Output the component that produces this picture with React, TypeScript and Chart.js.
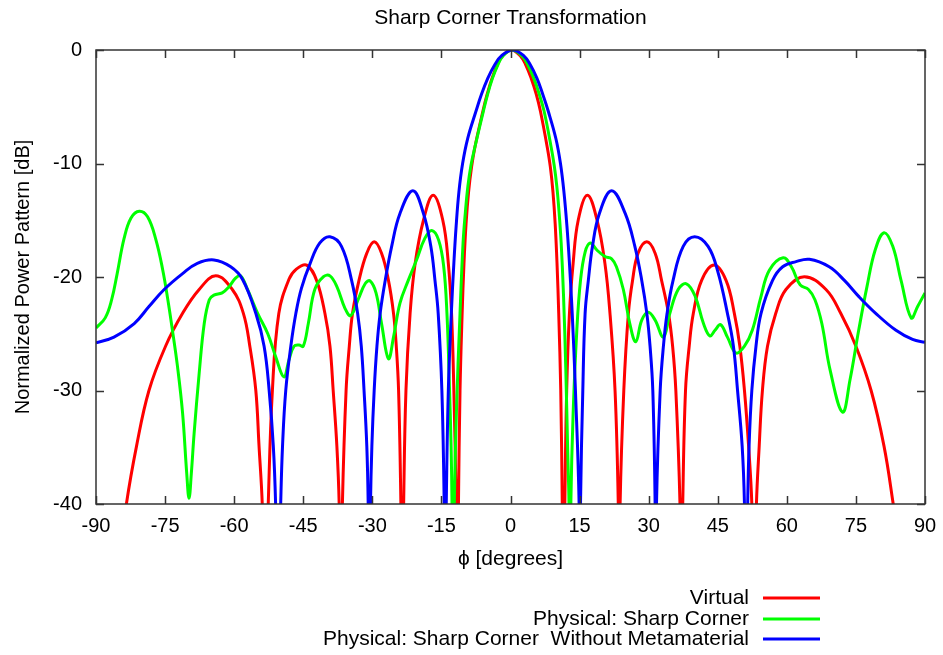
import React, { useEffect, useRef } from "react";
import { Chart, registerables } from "chart.js";

Chart.register(...registerables);

const chartTitle = "Sharp Corner Transformation";
const xAxisTitle = "\u03D5 [degrees]";
const yAxisTitle = "Normalized Power Pattern [dB]";
const seriesNames = ["Virtual", "Physical: Sharp Corner", "Physical: Sharp Corner  Without Metamaterial"];
const seriesColors = ["#ff0000", "#00ff00", "#0000ff"];

// [angle (deg), normalized power (dB)]
const virtualPattern: [number, number][] = [
  [-86, -48], [-83.4, -40], [-81.2, -34.9], [-78.5, -30], [-74.9, -26.1], [-71.2, -23.2], [-67.6, -21.1], [-64.0, -19.9],
  [-60.4, -21.1], [-58.0, -23.2], [-56.6, -26.1], [-55.3, -30], [-54.6, -34.9], [-53.9, -40], [-53.25, -50], [-52.6, -40],
  [-51.7, -30], [-50.3, -23.2], [-48.1, -20.2], [-46.5, -19.3], [-44.25, -18.95], [-42.1, -20.3], [-40.3, -23.2], [-39.2, -26.1],
  [-38.5, -30], [-37.7, -34.9], [-37.2, -40], [-36.85, -50], [-36.5, -40], [-35.7, -30], [-35.0, -26.1], [-34.3, -23.2],
  [-32.9, -20.3], [-31.2, -17.9], [-29.6, -16.9], [-28.0, -17.9], [-26.5, -20.3], [-25.4, -23.2], [-24.8, -26.1], [-24.3, -30],
  [-23.8, -40], [-23.5, -50], [-23.2, -40], [-22.7, -30], [-21.8, -23.2], [-20.7, -18.8], [-18.9, -15.0], [-16.8, -12.8],
  [-14.7, -15.0], [-13.5, -18.8], [-12.8, -23.2], [-12.3, -30], [-11.8, -40], [-11.55, -50], [-11.3, -40], [-10.96, -30],
  [-10.5, -23.2], [-10.1, -18.8], [-9.65, -15.3], [-9.1, -12.5], [-8.45, -10.3], [-7.7, -8.5], [-6.0, -5.4], [-5.07, -3.9],
  [-4.02, -2.5], [-2.84, -1.3], [-1.69, -0.5], [0.2, 0], [2.1, -0.5], [3.3, -1.3], [4.5, -2.5], [5.6, -3.9],
  [6.5, -5.4], [7.95, -8.5], [8.65, -10.3], [9.22, -12.5], [9.7, -15.3], [10.1, -18.8], [10.47, -23.2], [10.91, -30],
  [11.24, -40], [11.5, -50], [11.8, -40], [12.2, -30],
  [12.8, -23.2], [13.6, -18.8], [14.7, -15.0], [16.7, -12.8], [18.8, -15.0], [20.5, -18.8], [21.6, -23.2], [22.7, -30],
  [23.4, -40], [23.6, -50], [23.8, -40], [24.6, -30], [25.6, -23.2], [26.5, -20.3], [27.7, -17.9], [29.6, -16.9],
  [31.4, -17.9], [32.8, -20.3], [34.3, -23.2], [35.2, -26.1], [35.9, -30], [36.8, -40], [37.1, -50], [37.4, -40],
  [38.0, -30], [38.8, -26.1], [39.7, -23.2], [41.5, -20.3], [44.2, -18.95], [46.8, -20.3], [48.6, -23.2], [49.8, -26.1],
  [50.8, -30], [51.7, -34.9], [52.4, -40], [52.9, -50], [53.4, -40], [54.0, -34.9], [54.7, -30], [55.8, -26.1],
  [57.6, -23.2], [59.8, -21.1], [63.8, -19.97], [68.5, -21.1], [71.7, -23.2], [75.0, -26.1], [78.3, -30], [81.1, -34.9],
  [83.1, -40], [86, -48],
];

const sharpCornerPattern: [number, number][] = [
  [-90, -24.5], [-88.0, -23.6], [-86.6, -22.0], [-85.4, -19.7], [-83.9, -16.6], [-82.4, -14.8], [-80.6, -14.2], [-78.8, -14.7],
  [-77.0, -16.7], [-75.5, -19.4], [-74.4, -22.0], [-73.4, -24.7], [-72.3, -27.9], [-71.2, -32.0], [-70.3, -37.3], [-69.8, -39.5],
  [-69.3, -37.3], [-68.7, -33.8], [-67.6, -28.5], [-66.5, -24.1], [-65.4, -22.0], [-64.4, -21.6], [-62.6, -21.4], [-61.1, -20.85],
  [-59.7, -20.1], [-58.6, -19.9], [-57.1, -21.1], [-54.9, -23.2], [-52.7, -25.0], [-51.0, -27.0], [-49.2, -28.8], [-48.1, -27.3],
  [-47.0, -26.1], [-45.9, -26.0], [-45.0, -26.1], [-43.9, -24.1], [-42.5, -21.1], [-40.6, -19.97], [-39.2, -19.9], [-37.7, -20.85],
  [-35.9, -22.8], [-34.7, -23.4], [-33.0, -21.9], [-31.5, -20.55], [-30.5, -20.35], [-29.2, -21.4], [-28.0, -24.1], [-26.5, -27.2],
  [-25.4, -25.3], [-24.0, -22.3], [-22.2, -20.3], [-20.4, -18.5], [-18.6, -16.6], [-17.1, -15.9], [-15.6, -16.75], [-14.5, -19.1],
  [-13.8, -23.2], [-13.3, -29.1], [-12.9, -34.9], [-12.7, -40], [-12.45, -50], [-12.2, -40], [-11.75, -32], [-10.96, -23.2],
  [-10.3, -17.0], [-9.8, -14.3], [-9.25, -12.0], [-8.6, -10.2], [-7.7, -8.5], [-5.9, -5.4], [-4.97, -3.9], [-3.92, -2.5],
  [-2.74, -1.3], [-1.59, -0.5], [0.3, 0], [2.43, -0.5], [3.74, -1.3], [5.07, -2.5], [6.25, -3.9], [7.3, -5.4],
  [8.8, -8.5], [9.5, -10.2], [10.05, -12.0], [10.55, -14.3], [11.0, -17.0], [11.5, -21.5], [12.0, -28.0], [12.4, -35],
  [12.7, -40], [12.9, -50], [13.1, -40], [13.6, -32], [14.4, -24.7], [15.2, -20.3], [16.2, -17.8],
  [17.3, -17.0], [18.7, -17.6], [20.5, -18.2], [21.96, -18.4], [23.0, -19.1], [24.5, -21.1], [25.9, -24.1], [27.2, -25.7],
  [28.5, -23.8], [29.9, -23.1], [31.4, -23.8], [33.2, -25.3], [34.6, -23.2], [36.4, -21.1], [38.2, -20.6], [40.1, -21.7],
  [41.9, -24.1], [43.3, -25.2], [44.4, -24.7], [45.6, -24.2], [47.1, -25.3], [48.95, -26.7], [50.8, -26.1], [52.5, -24.7],
  [54.4, -21.7], [56.2, -19.4], [59.2, -18.3], [61.0, -19.1], [62.9, -20.7], [64.7, -21.1], [66.1, -22.0], [67.6, -24.1],
  [69.4, -28.2], [72.1, -31.9], [73.7, -29.1], [75.6, -24.7], [77.4, -20.85], [79.2, -17.6], [81.1, -16.1], [83.0, -17.3],
  [84.8, -20.3], [87.0, -23.6], [88.4, -22.6], [90, -21.4],
];

const noMetamaterialPattern: [number, number][] = [
  [-90, -25.8], [-86.1, -25.3], [-81.7, -24.1], [-78.5, -22.6], [-75.2, -21.1], [-71.2, -19.7], [-68.0, -18.8], [-64.4, -18.5],
  [-60.75, -19.1], [-58.2, -20.2], [-55.3, -23.2], [-53.5, -26.1], [-52.4, -30], [-51.5, -34.9], [-51.0, -40], [-50.5, -50],
  [-49.9, -40], [-49.5, -34.9], [-48.8, -30], [-47.7, -26.1], [-46.6, -23.2], [-45.4, -21.0], [-43.5, -18.8], [-41.4, -17.0],
  [-39.2, -16.45], [-36.7, -17.3], [-34.5, -20.3], [-33.2, -23.2], [-32.4, -26.1], [-31.8, -30], [-31.2, -34.9], [-30.9, -40],
  [-30.65, -50], [-30.4, -40], [-30.1, -34.9], [-29.6, -30], [-29.0, -26.1], [-28.3, -23.2], [-27.2, -20.3], [-25.8, -17.3],
  [-24.0, -14.4], [-21.2, -12.4], [-18.9, -14.4], [-17.3, -17.3], [-16.4, -20.3], [-15.7, -23.2], [-14.9, -30], [-14.4, -40],
  [-14.25, -50], [-13.95, -40], [-13.5, -30], [-12.85, -23.2], [-12.3, -18.8], [-11.8, -15.5], [-11.2, -12.5], [-10.4, -10.0],
  [-9.3, -7.8], [-7.5, -5.4], [-6.3, -3.9], [-4.94, -2.5], [-3.42, -1.3], [-1.93, -0.5], [0.5, 0], [2.85, -0.5],
  [4.3, -1.3], [5.75, -2.5], [7.0, -3.9], [8.2, -5.4], [9.85, -7.8], [10.85, -10.0], [11.6, -12.5], [12.25, -15.5],
  [12.8, -18.8], [13.4, -23.2], [14.1, -30], [14.9, -40],
  [15.05, -50], [15.2, -40], [15.7, -30], [16.2, -23.2], [16.9, -20.3], [17.8, -17.3], [19.3, -14.4], [21.96, -12.4],
  [24.9, -14.4], [27.0, -17.3], [28.5, -20.3], [29.6, -23.2], [30.3, -26.1], [30.9, -30], [31.4, -40], [31.55, -50],
  [31.7, -40], [32.5, -30], [33.2, -26.1], [34.0, -23.2], [35.3, -20.3], [37.5, -17.3], [40.0, -16.45], [42.9, -17.3],
  [45.0, -19.5], [47.1, -23.2], [48.4, -26.1], [49.3, -30], [50.3, -34.9], [50.8, -40], [51.15, -50], [51.5, -40],
  [51.8, -34.9], [52.4, -30], [53.3, -26.1], [54.4, -23.2], [56.9, -20.3], [59.1, -19.1], [62.0, -18.65], [64.9, -18.44],
  [69.2, -19.1], [72.5, -20.3], [75.7, -21.75], [79.3, -23.2], [83.7, -24.7], [87.3, -25.5], [90, -25.75],
];

const xMin = -90;
const xMax = 90;
const xStep = 15;
const yMin = -40;
const yMax = 0;
const yStep = 10;

const FONT = '"Liberation Sans", Arial, Helvetica, sans-serif';

const decorPlugin = {
  id: "decor",
  afterDatasetsDraw(chart: any) {
    const { ctx, chartArea: a, scales } = chart;
    ctx.save();
    ctx.strokeStyle = "#333333";
    ctx.lineWidth = 1.5;
    ctx.strokeRect(a.left, a.top, a.right - a.left, a.bottom - a.top);
    ctx.beginPath();
    const tl = 8;
    scales.x.ticks.forEach((t: any) => {
      const px = Math.round(scales.x.getPixelForValue(t.value)) + 0.5;
      ctx.moveTo(px, a.bottom);
      ctx.lineTo(px, a.bottom - tl);
      ctx.moveTo(px, a.top);
      ctx.lineTo(px, a.top + tl);
    });
    scales.y.ticks.forEach((t: any) => {
      const py = Math.round(scales.y.getPixelForValue(t.value)) + 0.5;
      ctx.moveTo(a.left, py);
      ctx.lineTo(a.left + tl, py);
      ctx.moveTo(a.right, py);
      ctx.lineTo(a.right - tl, py);
    });
    ctx.stroke();
    ctx.restore();
  },
  afterDraw(chart: any) {
    const { ctx, chartArea: a } = chart;
    const cx = (a.left + a.right) / 2;
    const cy = (a.top + a.bottom) / 2;
    ctx.save();
    ctx.fillStyle = "#000";
    ctx.textAlign = "center";
    ctx.textBaseline = "middle";
    ctx.font = `21px ${FONT}`;
    ctx.fillText(chartTitle, cx, 18);
    ctx.fillText(xAxisTitle, cx, 559);
    ctx.font = `20px ${FONT}`;
    ctx.save();
    ctx.translate(23, cy);
    ctx.rotate(-Math.PI / 2);
    ctx.fillText(yAxisTitle, 0, 0);
    ctx.restore();
    // legend
    ctx.font = `21px ${FONT}`;
    const rowYs = [598, 619, 639];
    chart.data.datasets.forEach((ds: any, i: number) => {
      const y = rowYs[i];
      ctx.textAlign = "right";
      ctx.fillStyle = "#000";
      ctx.fillText(ds.label, 749, y);
      ctx.strokeStyle = ds.borderColor;
      ctx.lineWidth = 3;
      ctx.beginPath();
      ctx.moveTo(763, y);
      ctx.lineTo(820, y);
      ctx.stroke();
    });
    ctx.restore();
  },
};

const toPoints = (p: [number, number][]) => p.map(([x, y]) => ({ x, y }));

export default function App() {
  const ref = useRef<HTMLCanvasElement | null>(null);
  useEffect(() => {
    if (!ref.current) return;
    const patterns = [virtualPattern, sharpCornerPattern, noMetamaterialPattern];
    const chart = new Chart(ref.current, {
      type: "line",
      data: {
        datasets: patterns.map((p, i) => ({
          label: seriesNames[i],
          data: toPoints(p),
          borderColor: seriesColors[i],
          backgroundColor: seriesColors[i],
          borderWidth: 3,
          pointRadius: 0,
          fill: false,
          tension: 0.4,
          order: 3 - i,
        })),
      },
      options: {
        responsive: false,
        animation: false,
        devicePixelRatio: 1,
        elements: { line: { capBezierPoints: false } },
        layout: { padding: { top: 50, left: 0, right: 18, bottom: 0 } },
        plugins: { legend: { display: false }, tooltip: { enabled: false }, title: { display: false } },
        scales: {
          x: {
            type: "linear",
            min: xMin,
            max: xMax,
            grid: { display: false },
            border: { display: false },
            ticks: {
              stepSize: xStep,
              padding: 2,
              color: "#000",
              font: { family: FONT, size: 20 },
              maxRotation: 0,
              autoSkip: false,
              callback: (v: any) => String(v),
            },
            afterFit: (s: any) => {
              s.height = 151;
            },
          },
          y: {
            type: "linear",
            min: yMin,
            max: yMax,
            grid: { display: false },
            border: { display: false },
            ticks: {
              stepSize: yStep,
              padding: 6,
              color: "#000",
              font: { family: FONT, size: 20 },
              callback: (v: any) => String(v),
            },
            afterFit: (s: any) => {
              s.width = 96;
            },
          },
        },
      },
      plugins: [decorPlugin],
    });
    return () => chart.destroy();
  }, []);
  return (
    <div style={{ position: "absolute", left: 0, top: 0, width: 943, height: 655, background: "#fff" }}>
      <canvas ref={ref} width={943} height={655} style={{ display: "block" }} />
    </div>
  );
}
